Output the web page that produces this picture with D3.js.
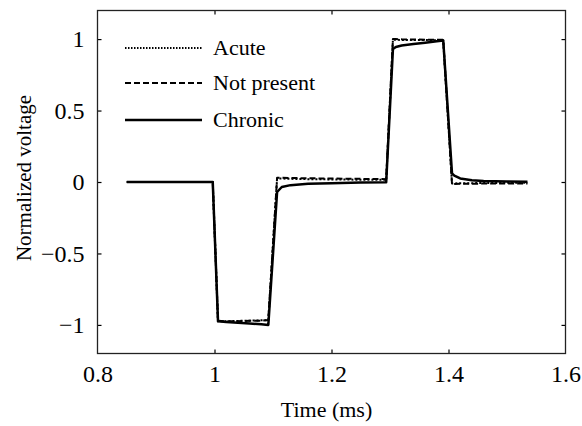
<!DOCTYPE html>
<html>
<head>
<meta charset="utf-8">
<script src="https://cdn.jsdelivr.net/npm/d3@7"></script>
<style>
  html, body { margin: 0; padding: 0; background: #fff; }
  svg { display: block; }
  svg text { font-family: "Liberation Serif", "DejaVu Serif", Times, serif !important; fill: #000; }
</style>
</head>
<body>
<svg id="chart" width="582" height="426"></svg>
<script>
// ---- data ----
const time = [0.85, 0.997, 1.006, 1.02, 1.04, 1.06, 1.08, 1.092, 1.107, 1.115, 1.13, 1.16, 1.2, 1.25, 1.2935,
              1.305, 1.31, 1.32, 1.34, 1.36, 1.38, 1.391, 1.406, 1.41, 1.42, 1.44, 1.46, 1.5, 1.535];
const acute = [0, 0, -0.975, -0.975, -0.972, -0.97, -0.968, -0.966, 0.025, 0.024, 0.022, 0.02, 0.018, 0.016, 0.015,
               0.995, 0.995, 0.994, 0.993, 0.993, 0.992, 0.992, -0.01, -0.01, -0.009, -0.008, -0.007, -0.006, -0.005];
const notPresent = [0, 0, -0.97, -0.975, -0.975, -0.97, -0.97, -0.965, 0.03, 0.03, 0.028, 0.026, 0.024, 0.022, 0.02,
                    1.0, 1.0, 0.998, 0.997, 0.996, 0.995, 0.995, -0.015, -0.014, -0.013, -0.012, -0.011, -0.01, -0.01];
const chronic = [0, 0, -0.975, -0.98, -0.985, -0.99, -0.995, -1.0, -0.07, -0.035, -0.022, -0.013, -0.008, -0.004, -0.002,
                 0.93, 0.945, 0.955, 0.965, 0.975, 0.985, 0.99, 0.06, 0.045, 0.025, 0.012, 0.007, 0.003, 0.001];
const seriesNames = ["Acute", "Not present", "Chronic"];
const xTicks = [0.8, 1, 1.2, 1.4, 1.6];
const yTicks = [-1, -0.5, 0, 0.5, 1];
const xLabel = "Time (ms)";
const yLabel = "Normalized voltage";

// ---- layout ----
const FONT = '"Liberation Serif", "DejaVu Serif", Times, serif';
const svg = d3.select("#chart");
const L = 97.5, R = 565.5, T = 10.5, B = 353.5;
const x = d3.scaleLinear().domain([0.8, 1.6]).range([L, R]);
const y = d3.scaleLinear().domain([-1.2, 1.2]).range([B, T]);

const styles = {
  "Acute": { dash: "2,2", width: 2 },
  "Not present": { dash: "6,3", width: 2 },
  "Chronic": { dash: null, width: 2.5 }
};
const series = [
  { name: seriesNames[0], values: acute },
  { name: seriesNames[1], values: notPresent },
  { name: seriesNames[2], values: chronic }
];

const line = d3.line().x((d, i) => x(time[i])).y(d => y(d));

series.forEach(s => {
  svg.append("path")
    .datum(s.values)
    .attr("d", line)
    .attr("fill", "none")
    .attr("stroke", "#000")
    .attr("stroke-width", styles[s.name].width)
    .attr("stroke-dasharray", styles[s.name].dash)
    .attr("stroke-linejoin", "round");
});

// axes (ticks inward, box)
const tickLen = 4;
const fs = 24;
const gx = svg.append("g").attr("transform", `translate(0,${B})`)
  .call(d3.axisBottom(x).tickValues(xTicks).tickSize(-tickLen).tickPadding(11).tickFormat(d3.format("")));
const gxTop = svg.append("g").attr("transform", `translate(0,${T})`)
  .call(d3.axisTop(x).tickValues(xTicks).tickSize(-tickLen).tickFormat(""));
const gy = svg.append("g").attr("transform", `translate(${L},0)`)
  .call(d3.axisLeft(y).tickValues(yTicks).tickSize(-tickLen).tickPadding(13)
    .tickFormat(d => d < 0 ? "\u2212" + Math.abs(d) : String(d)));
const gyR = svg.append("g").attr("transform", `translate(${R},0)`)
  .call(d3.axisRight(y).tickValues(yTicks).tickSize(-tickLen).tickFormat(""));

[gx, gxTop, gy, gyR].forEach(g => {
  g.attr("font-family", FONT);
  g.select(".domain").remove();
  g.selectAll(".tick line").attr("stroke", "#000").attr("stroke-width", 1.2);
  g.selectAll("text").attr("font-size", fs).attr("font-family", FONT).attr("fill", "#000");
});
gx.selectAll(".tick").filter(d => d === 0.8 || d === 1.6).select("line").remove();
gxTop.selectAll(".tick").filter(d => d === 0.8 || d === 1.6).select("line").remove();

svg.append("rect")
  .attr("x", L).attr("y", T).attr("width", R - L).attr("height", B - T)
  .attr("fill", "none").attr("stroke", "#222").attr("stroke-width", 1.3);

// axis labels
svg.append("text").attr("x", (L + R) / 2 - 5).attr("y", 417).attr("text-anchor", "middle")
  .attr("font-family", FONT).attr("font-size", 22).text(xLabel);
svg.append("text").attr("transform", `translate(31,${(T + B) / 2 - 4}) rotate(-90)`)
  .attr("font-family", FONT).attr("text-anchor", "middle").attr("font-size", 21).text(yLabel);

// legend
const legY = [48, 83, 120];
series.forEach((s, i) => {
  svg.append("line").attr("x1", 125).attr("x2", 202).attr("y1", legY[i]).attr("y2", legY[i])
    .attr("stroke", "#000").attr("stroke-width", styles[s.name].width)
    .attr("stroke-dasharray", s.name === "Acute" ? "1.5,1.5" : styles[s.name].dash);
  svg.append("text").attr("x", 213).attr("y", legY[i] + 7).attr("font-family", FONT)
    .attr("font-size", 22).text(s.name);
});
</script>
</body>
</html>
